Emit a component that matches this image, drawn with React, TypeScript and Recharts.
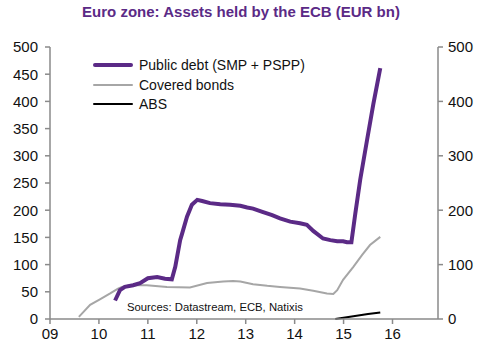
import React from 'react';
import { LineChart, Line, XAxis, YAxis } from 'recharts';

const xTicks = [2009, 2010, 2011, 2012, 2013, 2014, 2015, 2016];
const leftTicks = [0, 50, 100, 150, 200, 250, 300, 350, 400, 450, 500];
const rightTicks = [0, 100, 200, 300, 400, 500];

const publicDebtDates = [2010.33, 2010.43, 2010.53, 2010.7, 2010.84, 2011.0, 2011.19, 2011.35, 2011.49, 2011.56, 2011.66, 2011.7, 2011.8, 2011.9, 2012.01, 2012.11, 2012.27, 2012.48, 2012.68, 2012.89, 2013.03, 2013.15, 2013.34, 2013.54, 2013.7, 2013.91, 2014.11, 2014.25, 2014.38, 2014.58, 2014.73, 2014.87, 2014.99, 2015.07, 2015.16, 2015.24, 2015.34, 2015.48, 2015.61, 2015.75];
const publicDebtValues = [34, 53, 59, 62, 66, 75, 77, 74, 73, 96, 145, 157, 188, 210, 219, 217, 213, 211, 210, 208, 205, 203, 197, 191, 185, 179, 176, 173, 162, 148, 145, 143, 143, 141, 141, 194, 256, 329, 396, 461];

const coveredDates = [2009.59, 2009.82, 2010.02, 2010.23, 2010.39, 2010.47, 2010.64, 2010.98, 2011.39, 2011.86, 2012.21, 2012.54, 2012.74, 2012.89, 2013.15, 2013.44, 2013.7, 2014.11, 2014.38, 2014.66, 2014.79, 2014.87, 2014.99, 2015.2, 2015.38, 2015.54, 2015.75];
const coveredValues = [4, 26, 36, 47, 56, 59, 62, 62, 59, 58, 66, 69, 70, 69, 64, 61, 59, 56, 52, 47, 46, 53, 72, 96, 118, 136, 151];

const absDates = [2014.83, 2015.2, 2015.5, 2015.75];
const absValues = [0, 5, 9, 12];

const zip = (xs: number[], ys: number[]) => xs.map((x, i) => ({ x, v: ys[i] }));
const publicDebt = zip(publicDebtDates, publicDebtValues);
const covered = zip(coveredDates, coveredValues);
const abs = zip(absDates, absValues);

const PURPLE = '#5b2a86';
const GREY = '#a6a6a6';
const AXIS = '#8a8a8a';
const FONT = '"Liberation Sans", Arial, sans-serif';

const legendItems = [
  { label: 'Public debt (SMP + PSPP)', color: PURPLE, w: 4 },
  { label: 'Covered bonds', color: GREY, w: 2 },
  { label: 'ABS', color: '#000', w: 2 },
];

export default function App() {
  const tickStyle = { fill: '#111', fontSize: 15, fontFamily: FONT };
  return (
    <div style={{ position: 'absolute', left: 0, top: 0, width: 500, height: 353, background: '#fff', fontFamily: FONT }}>
      <div style={{ position: 'absolute', left: 0, width: 482, top: 3, textAlign: 'center', fontSize: 15, fontWeight: 'bold', color: PURPLE }}>
        Euro zone: Assets held by the ECB (EUR bn)
      </div>
      <LineChart width={500} height={353} margin={{ top: 47, right: 0, left: 0, bottom: 0 }}>
        <XAxis
          dataKey="x"
          type="number"
          domain={[2009, 2016.93]}
          ticks={xTicks}
          allowDataOverflow
          tickFormatter={(y: number) => String(y % 100).padStart(2, '0')}
          stroke={AXIS}
          strokeWidth={1.5}
          tickSize={5}
          tickMargin={4}
          height={34}
          tick={tickStyle}
        />
        <YAxis
          yAxisId="left"
          orientation="left"
          domain={[0, 500]}
          ticks={leftTicks}
          width={50}
          stroke={AXIS}
          strokeWidth={1.5}
          tickSize={5}
          tickMargin={7}
          tick={tickStyle}
        />
        <YAxis
          yAxisId="right"
          orientation="right"
          domain={[0, 500]}
          ticks={rightTicks}
          width={62}
          stroke={AXIS}
          strokeWidth={1.5}
          tickSize={5}
          tickMargin={5}
          tick={tickStyle}
        />
        <Line yAxisId="left" data={covered} dataKey="v" type="linear" stroke={GREY} strokeWidth={2} dot={false} isAnimationActive={false} />
        <Line yAxisId="right" data={abs} dataKey="v" type="linear" stroke="#000" strokeWidth={2} dot={false} isAnimationActive={false} />
        <Line yAxisId="left" data={publicDebt} dataKey="v" type="linear" stroke={PURPLE} strokeWidth={4} dot={false} isAnimationActive={false} />
      </LineChart>
      {legendItems.map((it, i) => (
        <div key={it.label} style={{ position: 'absolute', left: 93, top: 65 + i * 19.5 - 9, height: 18, display: 'flex', alignItems: 'center' }}>
          <div style={{ width: 40, height: it.w, background: it.color, borderRadius: it.w / 2 }} />
          <span style={{ marginLeft: 6, fontSize: 14, color: '#111', lineHeight: '18px' }}>{it.label}</span>
        </div>
      ))}
      <div style={{ position: 'absolute', left: 127, top: 300, fontSize: 11.3, color: '#111', lineHeight: '14px' }}>
        Sources: Datastream, ECB, Natixis
      </div>
    </div>
  );
}
